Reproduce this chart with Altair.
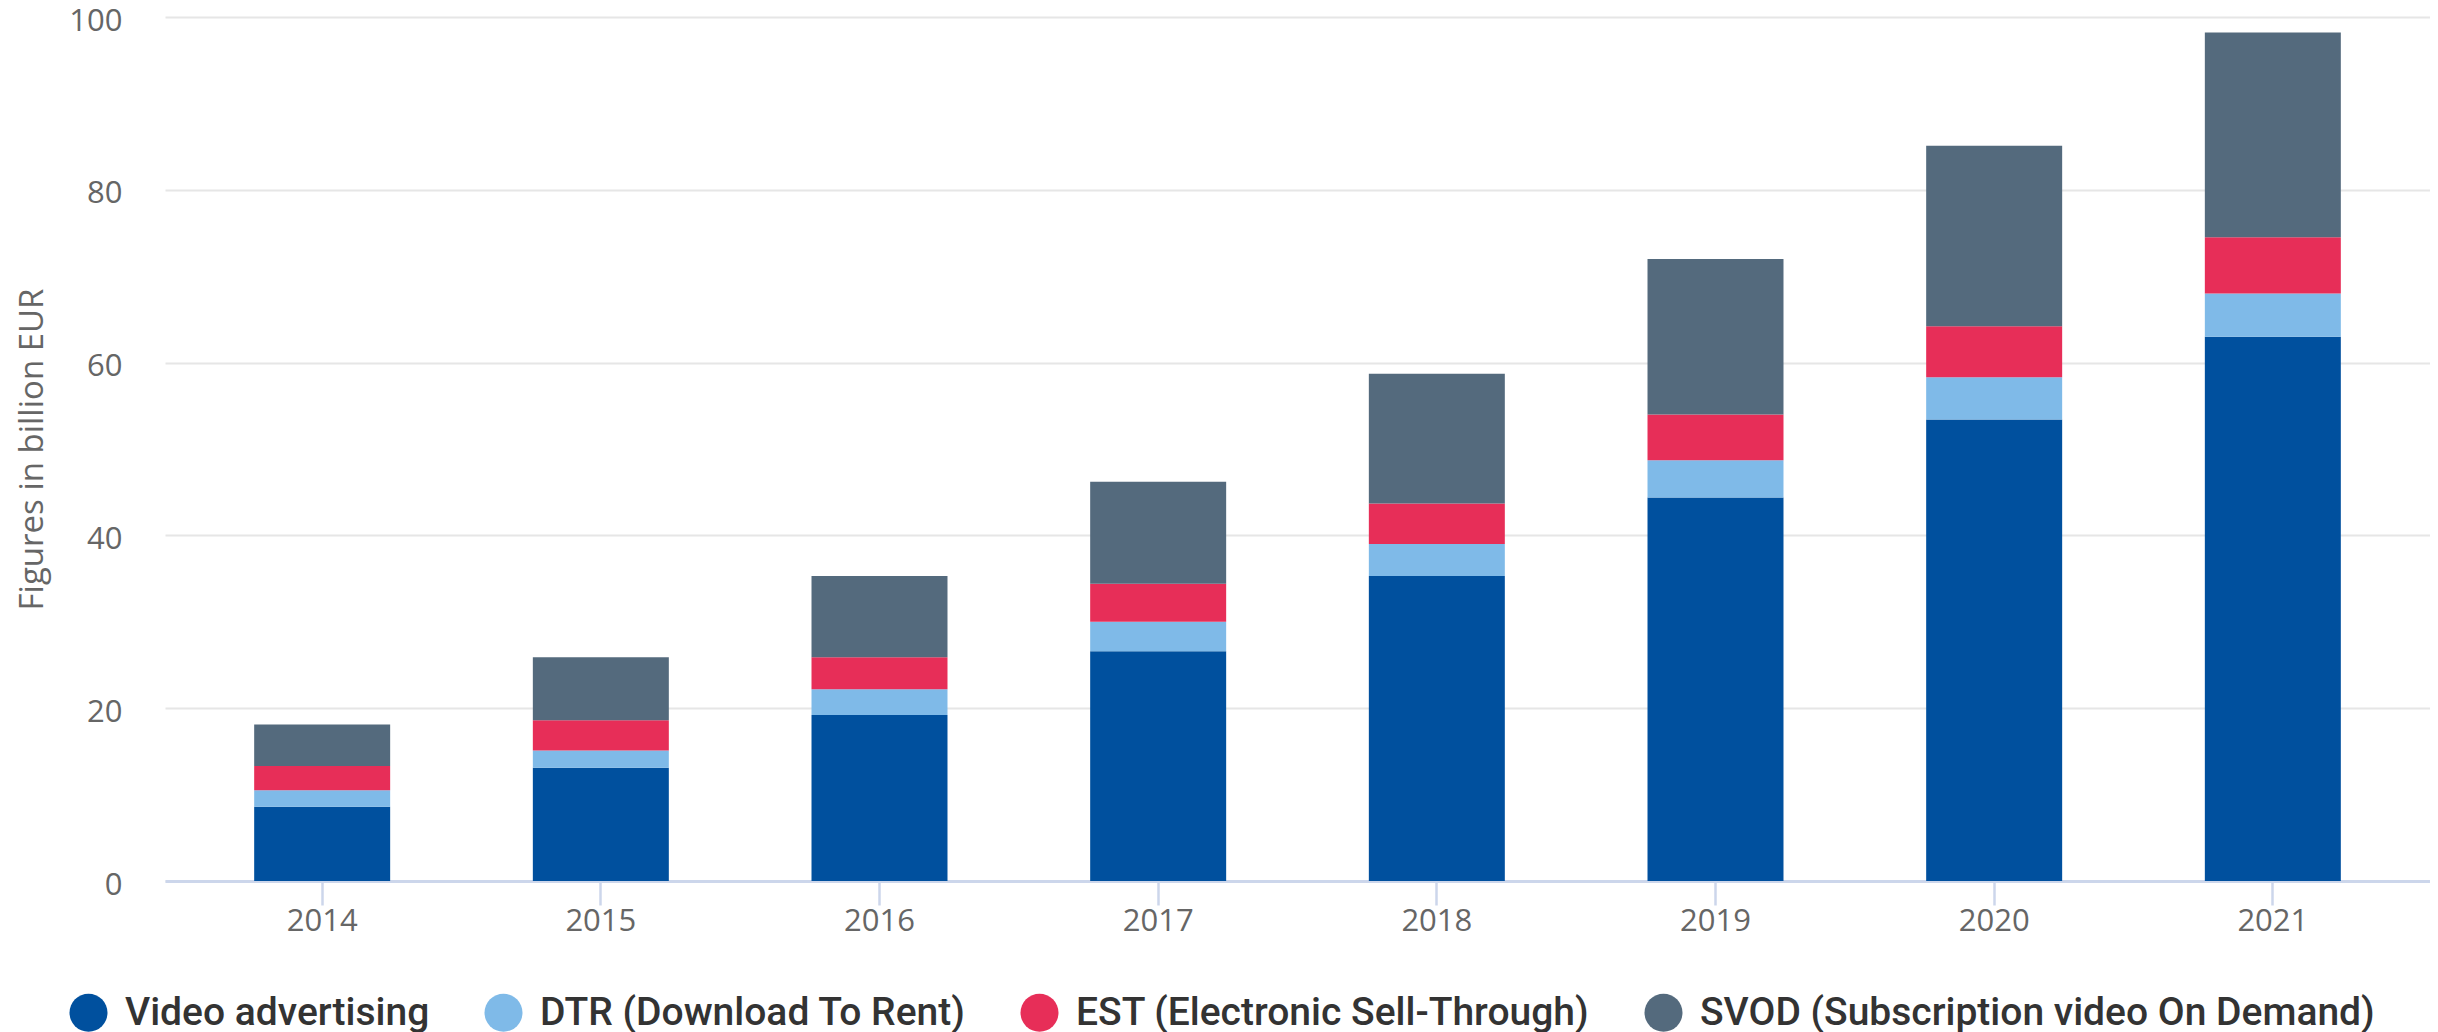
import altair as alt
import pandas as pd

years = ["2014", "2015", "2016", "2017", "2018", "2019", "2020", "2021"]
series = [
    "Video advertising",
    "DTR (Download To Rent)",
    "EST (Electronic Sell-Through)",
    "SVOD (Subscription video On Demand)",
]
video = [8.6, 13.1, 19.2, 26.6, 35.3, 44.4, 53.4, 63.0]
dtr = [1.9, 2.0, 3.0, 3.4, 3.7, 4.3, 4.9, 5.0]
est = [2.8, 3.5, 3.7, 4.4, 4.7, 5.3, 5.9, 6.5]
svod = [4.8, 7.3, 9.4, 11.8, 15.0, 18.0, 20.9, 23.7]
colors = ["#00509e", "#7fbae8", "#e72e58", "#546a7d"]
y_ticks = [0, 20, 40, 60, 80, 100]

rows = []
for idx, (name, vals) in enumerate(zip(series, [video, dtr, est, svod])):
    for yr, v in zip(years, vals):
        rows.append({"year": yr, "series": name, "value": v, "order": idx})
df = pd.DataFrame(rows)

axis_font = "Open Sans"
legend_font = "Roboto"

chart = (
    alt.Chart(df)
    .mark_bar()
    .encode(
        x=alt.X(
            "year:N",
            sort=years,
            scale=alt.Scale(paddingInner=0.512, paddingOuter=0.32),
            axis=alt.Axis(
                title=None,
                labelAngle=0,
                labelFont=axis_font,
                labelFontSize=31,
                labelColor="#666666",
                labelPadding=1,
                tickSize=24,
                tickColor="#ccd6eb",
                tickWidth=2.5,
                domainColor="#ccd6eb",
                domainWidth=3,
                grid=False,
            ),
        ),
        y=alt.Y(
            "value:Q",
            stack="zero",
            scale=alt.Scale(domain=[0, 100], nice=False),
            axis=alt.Axis(
                values=y_ticks,
                title="Figures in billion EUR",
                titleFont=axis_font,
                titleFontSize=33,
                titleFontWeight="normal",
                titleColor="#666666",
                titleX=-123,
                titleY=432,
                titleAngle=-90,
                titleAlign="center",
                titleBaseline="alphabetic",
                labelFont=axis_font,
                labelFontSize=31,
                labelColor="#666666",
                labelPadding=43,
                labelOffset=4,
                labelFlush=False,
                labelOverlap=False,
                ticks=False,
                domain=False,
                grid=True,
                gridColor="#e6e6e6",
                gridWidth=2,
            ),
        ),
        color=alt.Color(
            "series:N",
            sort=series,
            scale=alt.Scale(domain=series, range=colors),
            legend=alt.Legend(
                title=None,
                orient="none",
                legendX=-96,
                legendY=976,
                direction="horizontal",
                symbolType="circle",
                symbolSize=1444,
                symbolStrokeWidth=0,
                symbolOpacity=1,
                labelFont=legend_font,
                labelFontSize=39,
                labelFontWeight=500,
                labelColor="#333333",
                labelOffset=17,
                columnPadding=54,
                padding=0,
                labelLimit=1000,
            ),
        ),
        order=alt.Order("order:Q", sort="ascending"),
    )
    .properties(
        width=2265,
        height=864,
        padding={"left": 157, "top": 9, "right": 0, "bottom": 151},
        autosize=alt.AutoSizeParams(type="none"),
        background="white",
    )
    .configure_view(stroke=None)
)

chart.save("out.html", embed_options={"renderer": "svg", "actions": False})
